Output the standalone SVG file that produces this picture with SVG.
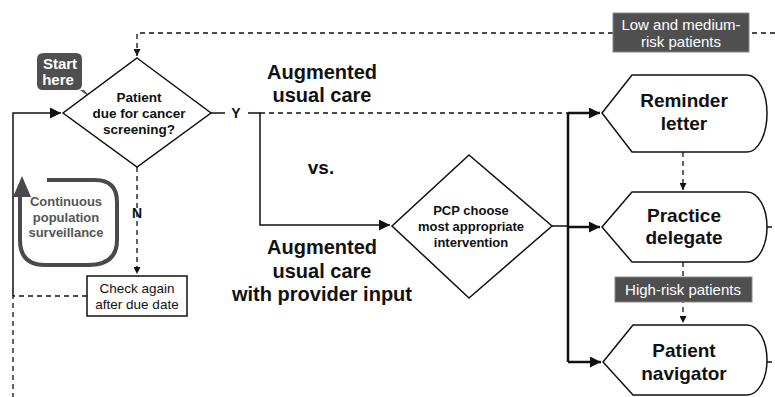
<svg xmlns="http://www.w3.org/2000/svg" width="775" height="397" viewBox="0 0 775 397">
<style>
text{font-family:"Liberation Sans",Arial,sans-serif;text-anchor:middle}
.b{font-weight:bold;fill:#111}
.big{font-size:19px}
.lbl{fill:#fff;font-size:15px}
.node{fill:#fff;stroke:#111;stroke-width:1.5}
.solid{fill:none;stroke:#111;stroke-width:1.5}
.thick{fill:none;stroke:#111;stroke-width:2.5}
.dash{fill:none;stroke:#111;stroke-width:1.3;stroke-dasharray:5 4}
.tag{fill:#4f4f4f;stroke:#888;stroke-width:1}
</style>
<defs>
<marker id="ah" viewBox="0 0 10 10" refX="10" refY="5" markerWidth="7" markerHeight="7" markerUnits="userSpaceOnUse" orient="auto"><path d="M0,0 L10,5 L0,10 z" fill="#111"/></marker>
<marker id="ahb" viewBox="0 0 10 10" refX="10" refY="5" markerWidth="13" markerHeight="11" markerUnits="userSpaceOnUse" orient="auto"><path d="M0,0 L10,5 L0,10 z" fill="#111"/></marker>
</defs>
<rect width="775" height="397" fill="#fff"/>
<g id="connectors">
<path class="dash" d="M775,33 H137 V56" marker-end="url(#ah)"/>
<path class="solid" d="M13,296 V113 H61" marker-end="url(#ahb)"/>
<path class="dash" d="M87,296 H13 V397"/>
<path class="dash" d="M137,167 V274" marker-end="url(#ah)"/>
<path class="solid" d="M210,113 H225 M248,113 H260 V225 H390" marker-end="url(#ahb)"/>
<path class="dash" d="M260,113 H568"/>
<path class="solid" d="M552,226 H568"/>
<path class="thick" d="M568,113 V362"/>
<path class="thick" d="M568,113 H600" marker-end="url(#ahb)"/>
<path class="thick" d="M568,227 H600" marker-end="url(#ahb)"/>
<path class="thick" d="M568,362 H601" marker-end="url(#ahb)"/>
<path class="dash" d="M683,152 V190" marker-end="url(#ah)"/>
<path class="dash" d="M683,262 V323" marker-end="url(#ah)"/>
<path class="dash" d="M767,227 H775 M767,362 H775"/>
</g>
<g id="start-here">
<path d="M44,53 H76 Q82,53 82,59 V84 Q82,90 76,90 H84 L92,99 L80,90 H43 Q37,90 37,84 V59 Q37,53 44,53 z" fill="#4f4f4f"/>
<text class="lbl" font-weight="bold" x="60" y="69">Start</text>
<text class="lbl" font-weight="bold" x="58" y="85">here</text>
</g>
<g id="surveillance">
<path d="M47,180 H95 Q117,180 117,202 V240 Q117,265 88,265 H45 Q20,265 20,240 V195" fill="none" stroke="#4a4a4a" stroke-width="4"/>
<path d="M13,197 L22,176 L31,197 z" fill="#4a4a4a"/>
<text font-weight="bold" font-size="13" fill="#555" x="66" y="206">Continuous</text>
<text font-weight="bold" font-size="13" fill="#555" x="66" y="222">population</text>
<text font-weight="bold" font-size="13" fill="#555" x="66" y="237">surveillance</text>
</g>
<g id="decision-due">
<path class="node" d="M137,58 L211,113 L137,167 L63,113 z"/>
<text class="b" font-size="13.5" x="139" y="102">Patient</text>
<text class="b" font-size="13.5" x="139" y="118">due for cancer</text>
<text class="b" font-size="13.5" x="139" y="134">screening?</text>
</g>
<text class="b" font-size="14" x="236" y="118">Y</text>
<text class="b" font-size="14" x="137" y="218">N</text>
<g id="check-again">
<rect class="node" x="87" y="276" width="100" height="40"/>
<text font-size="13.5" fill="#111" x="137" y="293">Check again</text>
<text font-size="13.5" fill="#111" x="137" y="309">after due date</text>
</g>
<g id="labels">
<text class="b" font-size="20" x="322" y="79">Augmented</text>
<text class="b" font-size="20" x="322" y="102">usual care</text>
<text class="b" font-size="19" x="321" y="174">vs.</text>
<text class="b" font-size="20" x="322" y="254">Augmented</text>
<text class="b" font-size="20" x="322" y="278">usual care</text>
<text class="b" font-size="20" x="322" y="301">with provider input</text>
</g>
<g id="decision-pcp">
<path class="node" d="M469,155 L552,226 L469,298 L392,226 z"/>
<text class="b" font-size="13" x="471" y="215">PCP choose</text>
<text class="b" font-size="13" x="471" y="231">most appropriate</text>
<text class="b" font-size="13" x="471" y="247">intervention</text>
</g>
<g id="low-medium">
<rect class="tag" x="613" y="13" width="136" height="39"/>
<text class="lbl" x="681" y="30">Low and medium-</text>
<text class="lbl" x="681" y="47">risk patients</text>
</g>
<g id="reminder-letter">
<path class="node" d="M602,113 L632,75 H747 A20,38.5 0 0 1 747,152 H632 z"/>
<text class="b big" x="684" y="107">Reminder</text>
<text class="b big" x="684" y="130">letter</text>
</g>
<g id="practice-delegate">
<path class="node" d="M602,227 L632,192 H747 A20,35 0 0 1 747,262 H632 z"/>
<text class="b big" x="684" y="222">Practice</text>
<text class="b big" x="684" y="244">delegate</text>
</g>
<g id="high-risk">
<rect class="tag" x="615" y="277" width="137" height="25"/>
<text class="lbl" x="683" y="295">High-risk patients</text>
</g>
<g id="patient-navigator">
<path class="node" d="M603,362 L633,325 H747 A20,35 0 0 1 747,395 H633 z"/>
<text class="b big" x="684" y="357">Patient</text>
<text class="b big" x="684" y="380">navigator</text>
</g>
</svg>
